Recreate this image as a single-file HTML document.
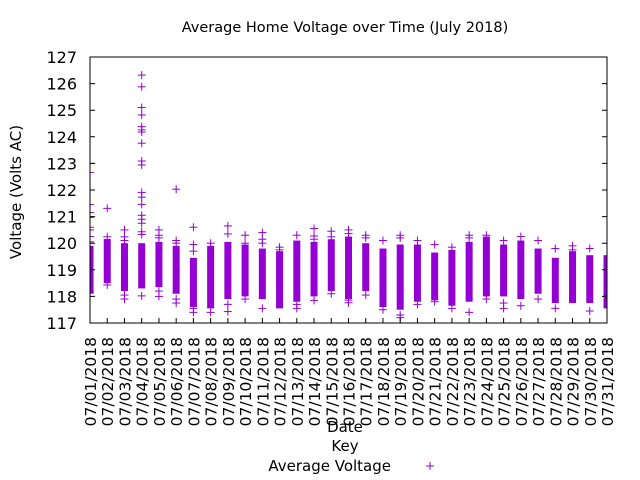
<!DOCTYPE html>
<html><head><meta charset="utf-8"><style>
body{margin:0;background:#fff}
svg{display:block;font-family:"DejaVu Sans","Liberation Sans",sans-serif}
</style></head><body>
<svg id="chart" width="640" height="480" viewBox="0 0 640 480">
<text x="345" y="32" font-size="14.5" text-anchor="middle">Average Home Voltage over Time (July 2018)</text>
<text transform="translate(21,192) rotate(-90)" font-size="15" text-anchor="middle">Voltage (Volts AC)</text>
<text x="345" y="432" font-size="15" text-anchor="middle">Date</text>
<text x="345" y="451" font-size="15" text-anchor="middle">Key</text>
<text x="391" y="471" font-size="15" text-anchor="end">Average Voltage</text>
<g stroke="#9400d3" stroke-width="1"><line x1="426" y1="466" x2="434" y2="466"/><line x1="430" y1="462" x2="430" y2="470"/></g>
<g id="plot"></g>
</svg>
<script>
const categories=["07/01/2018","07/02/2018","07/03/2018","07/04/2018","07/05/2018","07/06/2018","07/07/2018","07/08/2018","07/09/2018","07/10/2018","07/11/2018","07/12/2018","07/13/2018","07/14/2018","07/15/2018","07/16/2018","07/17/2018","07/18/2018","07/19/2018","07/20/2018","07/21/2018","07/22/2018","07/23/2018","07/24/2018","07/25/2018","07/26/2018","07/27/2018","07/28/2018","07/29/2018","07/30/2018","07/31/2018"];
const q1=[118.1,118.5,118.2,118.3,118.35,118.1,117.6,117.55,117.9,118.0,117.9,117.55,117.8,118.0,118.2,117.9,118.2,117.6,117.5,117.8,117.85,117.65,117.8,118.0,118.0,117.9,118.1,117.75,117.75,117.75,117.55];
const q3=[119.9,120.16,120.0,120.0,120.05,119.9,119.45,119.9,120.05,119.95,119.8,119.7,120.1,120.05,120.15,120.25,120.0,119.8,119.95,119.95,119.65,119.75,120.05,120.25,119.95,120.1,119.8,119.45,119.7,119.55,119.55];
const outliers=[
[123.0,122.66,121.45,121.15,120.97,120.6,120.5,120.25,120.05,118.18],
[121.31,120.24,118.43],
[120.5,120.24,120.1,118.05,117.9],
[126.32,125.88,125.1,124.82,124.38,124.26,124.18,123.76,123.09,122.94,121.91,121.73,121.46,121.05,120.9,120.75,120.43,120.33,118.02],
[120.5,120.3,120.2,118.2,118.0],
[122.03,120.1,120.0,117.9,117.75],
[120.6,119.95,119.7,117.55,117.4],
[120.0,117.4],
[120.65,120.35,117.7,117.43],
[120.3,120.0,117.9],
[120.4,120.15,120.0,117.55],
[119.85,119.75],
[120.3,117.7,117.55],
[120.55,120.27,120.15,117.85],
[120.45,120.24,118.1],
[120.5,120.36,117.86,117.76],
[120.3,120.2,118.05],
[120.1,117.5],
[120.3,120.2,117.3,117.2],
[120.1,117.7],
[119.95,117.8],
[119.85,117.55],
[120.3,120.2,117.4],
[120.3,117.9],
[120.1,117.75,117.55],
[120.25,117.65],
[120.1,117.9],
[119.8,117.55],
[119.9,119.75],
[119.8,117.45],
[]];
const yTicks=[117,118,119,120,121,122,123,124,125,126,127];
const L=90,R=607,T=57,B=323,yMin=117,yMax=127;
const NS="http://www.w3.org/2000/svg";
const plot=document.getElementById('plot');
const yS=v=>B-(v-yMin)/(yMax-yMin)*(B-T);
const xS=i=>L+i*(R-L)/(categories.length-1);
function mk(tag,attrs,parent){const e=document.createElementNS(NS,tag);for(const k in attrs)e.setAttribute(k,attrs[k]);(parent||plot).appendChild(e);return e;}
const clip=mk('clipPath',{id:'pc'});mk('rect',{x:L,y:T,width:R-L,height:B-T},clip);
const marks=mk('g',{'clip-path':'url(#pc)'});


categories.forEach((c,i)=>{
  const x=xS(i);
  const b=mk('rect',{x:x-3.5,y:yS(q3[i]),width:7,height:yS(q1[i])-yS(q3[i]),fill:'#9400d3'},marks);
  
  
  outliers[i].forEach(v=>{
    const g=mk('g',{stroke:'#9400d3','stroke-width':1},marks);
    
    
    mk('line',{x1:x-4,y1:yS(v),x2:x+4,y2:yS(v)},g);
    mk('line',{x1:x,y1:yS(v)-4,x2:x,y2:yS(v)+4},g);
  });
  const t=mk('line',{x1:x,y1:B,x2:x,y2:B-5,stroke:'#000'});
  
  
  const lb=mk('text',{transform:`translate(${x+6},337) rotate(-90)`,'font-size':15.5,'text-anchor':'end'});
  
  
  lb.textContent=c;
});
yTicks.forEach(v=>{
  const y=yS(v);
  const t=mk('path',{d:`M${L} ${y}h5M${R} ${y}h-5`,stroke:'#000'});
  
  
  const lb=mk('text',{x:77,y:y+6,'font-size':16,'text-anchor':'end'});
  
  
  lb.textContent=v;
});
const fr=mk('rect',{x:L,y:T,width:R-L,height:B-T,fill:'none',stroke:'#000','stroke-width':1});


</script>
</body></html>
